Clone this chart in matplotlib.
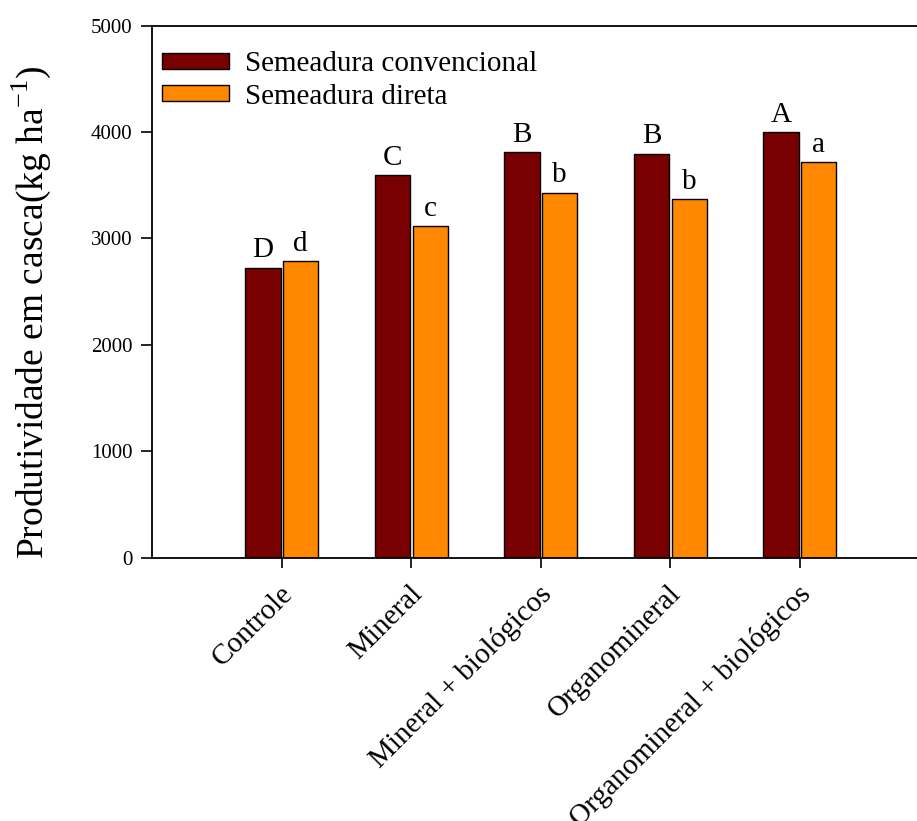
import numpy as np
import matplotlib
matplotlib.use("Agg")
import matplotlib.pyplot as plt
import matplotlib.transforms as mtransforms

plt.rcParams['font.family'] = ['Liberation Serif', 'DejaVu Serif']
plt.rcParams['mathtext.fontset'] = 'custom'
plt.rcParams['mathtext.rm'] = 'Liberation Serif'

# dados
tratamentos = ['Controle', 'Mineral', 'Mineral + biológicos',
               'Organomineral', 'Organomineral + biológicos']
convencional = [2725, 3596, 3812, 3797, 3998]
direta = [2790, 3114, 3430, 3371, 3716]
letras_conv = ['D', 'C', 'B', 'B', 'A']
letras_dir = ['d', 'c', 'b', 'b', 'a']

COR_CONV = '#780000'
COR_DIR = '#FF8800'

fig = plt.figure(figsize=(9.17, 8.21), dpi=100)
ax = fig.add_axes([152 / 917, 1 - 557.5 / 821, 777 / 917, (557.5 - 25.7) / 821])

x = np.arange(len(tratamentos))
w = 0.272
ax.bar(x - 0.142, convencional, w, color=COR_CONV, edgecolor='black',
       linewidth=1.0, label='Semeadura convencional')
ax.bar(x + 0.148, direta, w, color=COR_DIR, edgecolor='black',
       linewidth=1.0, label='Semeadura direta')

for xi, v, l in zip(x - 0.142, convencional, letras_conv):
    ax.text(xi, v + 40, l, ha='center', va='bottom', fontsize=21)
for xi, v, l in zip(x + 0.148, direta, letras_dir):
    ax.text(xi, v + 40, l, ha='center', va='bottom', fontsize=21)

ax.set_xlim(-1, 5)
ax.set_ylim(0, 5000)
ax.set_yticks([0, 1000, 2000, 3000, 4000, 5000])
ax.set_xticks(x)
ax.set_xticklabels([])

# rótulos do eixo x desenhados como texto (deslocados como no original)
trans = mtransforms.blended_transform_factory(ax.transData, ax.transAxes)
offset = mtransforms.ScaledTranslation(-2 / 100, -23 / 100, fig.dpi_scale_trans)
for xi, t in zip(x, tratamentos):
    ax.text(xi, 0, t, transform=trans + offset, rotation=45, ha='right',
            va='top', rotation_mode='anchor', fontsize=21, clip_on=False)

ax.tick_params(axis='y', direction='out', length=8, width=1.2, labelsize=15, pad=6)
ax.tick_params(axis='x', direction='out', length=7, width=1.2, pad=4)
ax.spines['right'].set_visible(False)
for s in ['left', 'top', 'bottom']:
    ax.spines[s].set_linewidth(1.3)

ax.set_ylabel('Produtividade em casca(kg ha$^{-1}$)', fontsize=27)
ax.yaxis.set_label_coords(-0.128, 0.46)

ax.legend(loc='upper left', bbox_to_anchor=(0.013, 0.952), frameon=False,
          fontsize=21, handlelength=2.3, handleheight=0.47, handletextpad=0.55,
          labelspacing=0.22, borderpad=0, borderaxespad=0)

fig.savefig('out.png', dpi=100)
